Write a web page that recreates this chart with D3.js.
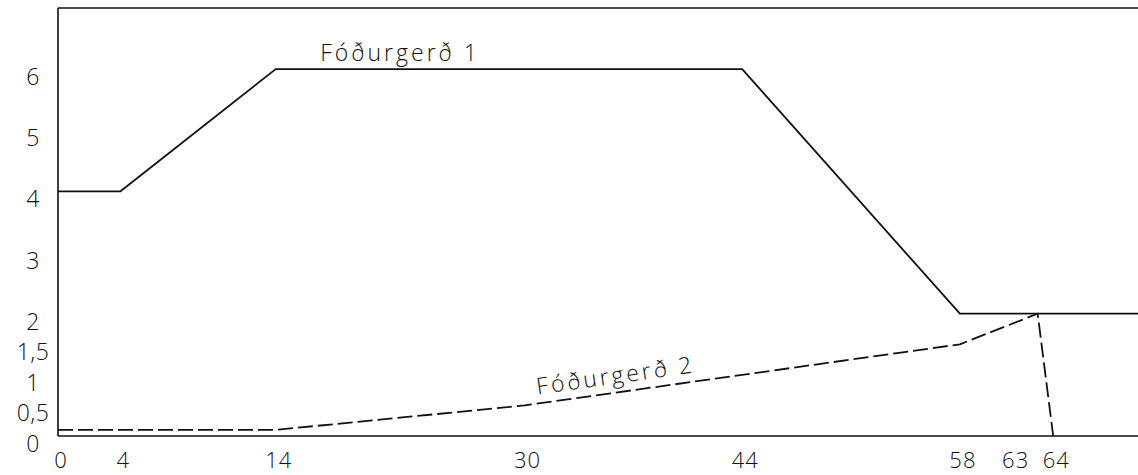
<!DOCTYPE html>
<html>
<head>
<meta charset="utf-8">
<script src="https://cdn.jsdelivr.net/npm/d3@7"></script>
<style>
  html, body { margin: 0; padding: 0; background: #fff; }
  svg { display: block; }
  text { font-family: "Open Sans", "DejaVu Sans", sans-serif; font-weight: 300; fill: #111; }
</style>
</head>
<body>
<svg id="chart" width="1138" height="475"></svg>
<script>
// Feeding schedule: days on the x axis, amount on the y axis
const xTicks = [0, 4, 14, 30, 44, 58, 63, 64];
const yTicks = [0, 0.5, 1, 1.5, 2, 3, 4, 5, 6];

const feed1Days   = [0, 4, 14, 44, 58, 70];
const feed1Values = [4, 4, 6, 6, 2, 2];

const feed2Days   = [0, 14, 30, 44, 58, 63, 64];
const feed2Values = [0.1, 0.1, 0.5, 1.0, 1.5, 2.0, 0];

const seriesNames = ["Fóðurgerð 1", "Fóðurgerð 2"];

const svg = d3.select("#chart");
const W = 1138;

const x = d3.scaleLinear().domain([0, 70]).range([58, 58 + 70 * 15.55]);
const y = d3.scaleLinear().domain([0, 7]).range([436, 8]);

const fmt = v => String(v).replace(".", ",");

// frame: left axis, top edge, baseline
const frame = svg.append("g").attr("stroke", "#111").attr("stroke-width", 1.6).attr("fill", "none");
frame.append("line").attr("x1", x(0)).attr("x2", x(0)).attr("y1", y(0)).attr("y2", y(7));
frame.append("line").attr("x1", x(0)).attr("x2", W).attr("y1", y(7)).attr("y2", y(7));
frame.append("line").attr("x1", x(0)).attr("x2", W).attr("y1", y(0)).attr("y2", y(0));

// y tick labels
svg.append("g").selectAll("text").data(yTicks).join("text")
  .attr("x", 33)
  .attr("y", d => y(d) + 16)
  .attr("text-anchor", "middle")
  .attr("font-size", 23)
  .attr("letter-spacing", 0.5)
  .text(fmt);

// x tick labels; a label crowded by its right neighbour is nudged left
svg.append("g").selectAll("text").data(xTicks).join("text")
  .attr("x", (d, i) => {
    const next = xTicks[i + 1];
    const crowded = next !== undefined && next - d < 2;
    return x(d) + (crowded ? -22 : 3);
  })
  .attr("y", 468)
  .attr("text-anchor", "middle")
  .attr("font-size", 22)
  .attr("letter-spacing", 1)
  .text(d => d);

const line = d3.line().x(d => x(d[0])).y(d => y(d[1]));

const feed1 = d3.zip(feed1Days, feed1Values);
const feed2 = d3.zip(feed2Days, feed2Values);

svg.append("path")
  .datum(feed1)
  .attr("d", line)
  .attr("fill", "none")
  .attr("stroke", "#111")
  .attr("stroke-width", 1.8)
  .attr("stroke-linejoin", "round");

svg.append("path")
  .datum(feed2)
  .attr("d", line)
  .attr("fill", "none")
  .attr("stroke", "#111")
  .attr("stroke-width", 1.8)
  .attr("stroke-dasharray", "15,5");

// series labels
svg.append("text")
  .attr("x", x(22))
  .attr("y", y(6) - 8)
  .attr("text-anchor", "middle")
  .attr("font-size", 23)
  .attr("letter-spacing", 3)
  .text(seriesNames[0]);

// second label follows the slope of its line
const p0 = [x(30), y(0.5)], p1 = [x(58), y(1.5)];
const angle = Math.atan2(p1[1] - p0[1], p1[0] - p0[0]) * 180 / Math.PI;
const lx = x(36);
const ly = y(0.5 + (36 - 30) / 28);
svg.append("text")
  .attr("transform", `translate(${lx},${ly}) rotate(${angle})`)
  .attr("y", -9)
  .attr("text-anchor", "middle")
  .attr("font-size", 23)
  .attr("letter-spacing", 3)
  .text(seriesNames[1]);
</script>
</body>
</html>
